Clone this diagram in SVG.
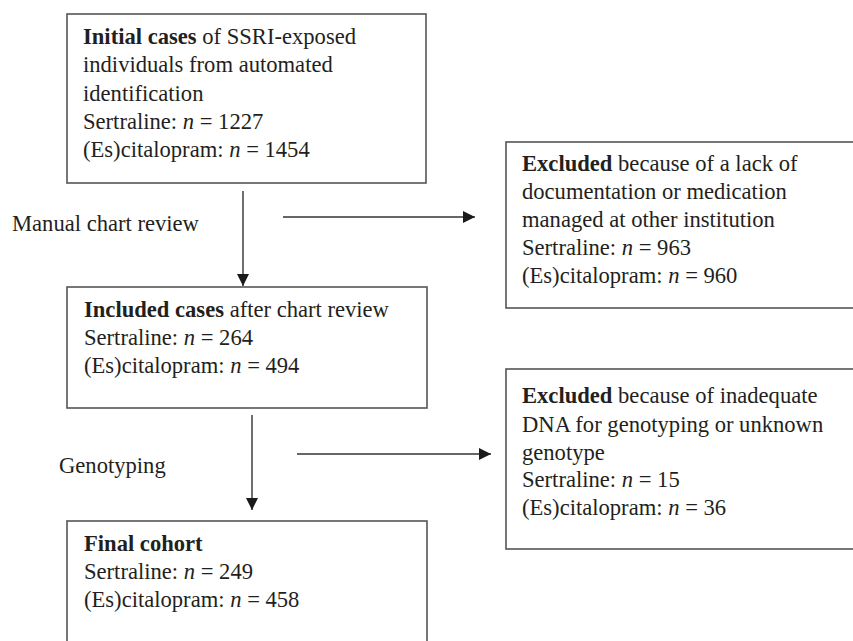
<svg xmlns="http://www.w3.org/2000/svg" width="853" height="641" viewBox="0 0 853 641">
<defs>
<marker id="ah" markerWidth="12" markerHeight="12" refX="12" refY="6" orient="auto" markerUnits="userSpaceOnUse">
<path d="M0,0 L12,6 L0,12 Z" fill="#1a1a1a"/>
</marker>
<style>
.box{fill:#fff;stroke:#555;stroke-width:1.6}
text{font-family:"Liberation Serif","Times New Roman",serif;font-size:22.6px;fill:#231f20}
.b{font-weight:bold}
.i{font-style:italic}
.conn{stroke:#333;stroke-width:1.4;fill:none}
</style>
</defs>
<rect width="853" height="641" fill="#fff"/>
<g id="connectors">
<line class="conn" x1="243" y1="191" x2="243" y2="286" marker-end="url(#ah)"/>
<line class="conn" x1="283" y1="217" x2="475" y2="217" marker-end="url(#ah)"/>
<line class="conn" x1="252" y1="415" x2="252" y2="510" marker-end="url(#ah)"/>
<line class="conn" x1="297" y1="454" x2="491" y2="454" marker-end="url(#ah)"/>
<text x="12" y="230.7">Manual chart review</text>
<text x="59" y="472.5">Genotyping</text>
</g>
<g id="initial">
<rect class="box" x="67" y="14" width="359" height="169"/>
<text x="83" y="44.3"><tspan class="b">Initial cases</tspan> of SSRI-exposed</text>
<text x="83" y="72.4">individuals from automated</text>
<text x="83" y="100.5">identification</text>
<text x="83" y="128.6">Sertraline: <tspan class="i">n</tspan> = 1227</text>
<text x="83" y="156.7">(Es)citalopram: <tspan class="i">n</tspan> = 1454</text>
</g>
<g id="excluded1">
<rect class="box" x="506" y="142" width="360" height="166"/>
<text x="522" y="170.7"><tspan class="b">Excluded</tspan> because of a lack of</text>
<text x="522" y="198.8">documentation or medication</text>
<text x="522" y="226.9">managed at other institution</text>
<text x="522" y="255">Sertraline: <tspan class="i">n</tspan> = 963</text>
<text x="522" y="283.1">(Es)citalopram: <tspan class="i">n</tspan> = 960</text>
</g>
<g id="included">
<rect class="box" x="67" y="287" width="360" height="121"/>
<text x="84" y="316.5"><tspan class="b">Included cases</tspan> after chart review</text>
<text x="84" y="344.6">Sertraline: <tspan class="i">n</tspan> = 264</text>
<text x="84" y="372.7">(Es)citalopram: <tspan class="i">n</tspan> = 494</text>
</g>
<g id="excluded2">
<rect class="box" x="506" y="369" width="360" height="180"/>
<text x="522" y="403.3"><tspan class="b">Excluded</tspan> because of inadequate</text>
<text x="522" y="431.5">DNA for genotyping or unknown</text>
<text x="522" y="459.5">genotype</text>
<text x="522" y="487.3">Sertraline: <tspan class="i">n</tspan> = 15</text>
<text x="522" y="515.2">(Es)citalopram: <tspan class="i">n</tspan> = 36</text>
</g>
<g id="final">
<rect class="box" x="67" y="521" width="360" height="140"/>
<text x="84" y="550.5"><tspan class="b">Final cohort</tspan></text>
<text x="84" y="578.6">Sertraline: <tspan class="i">n</tspan> = 249</text>
<text x="84" y="606.7">(Es)citalopram: <tspan class="i">n</tspan> = 458</text>
</g>
</svg>
